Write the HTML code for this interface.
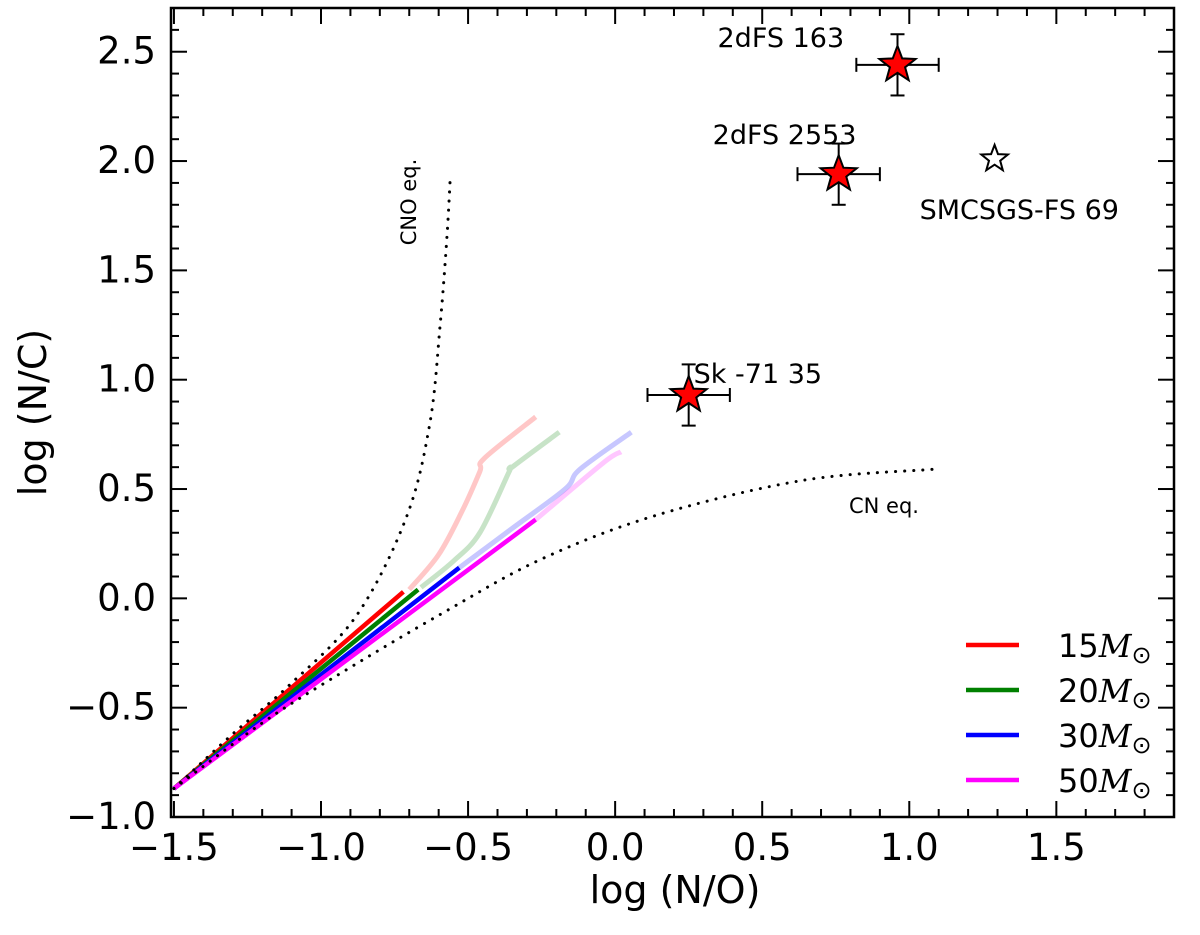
<!DOCTYPE html>
<html><head><meta charset="utf-8"><style>
body{margin:0;background:#fff}
svg text{font-family:"DejaVu Sans","Liberation Sans",sans-serif}
</style></head><body>
<svg id="chart" width="1200" height="930" xmlns="http://www.w3.org/2000/svg">
<g id="marks"></g>
</svg>
<script>
const xTicks=[-1.5,-1.0,-0.5,0.0,0.5,1.0,1.5];
const xTickLabels=["\u22121.5","\u22121.0","\u22120.5","0.0","0.5","1.0","1.5"];
const yTicks=[-1.0,-0.5,0.0,0.5,1.0,1.5,2.0,2.5];
const yTickLabels=["\u22121.0","\u22120.5","0.0","0.5","1.0","1.5","2.0","2.5"];
const cnoX=[-1.5,-1.3,-1.11,-0.88,-0.71,-0.63,-0.595,-0.572,-0.56];
const cnoY=[-0.87,-0.62,-0.40,-0.08,0.37,0.80,1.25,1.65,1.94];
const cnX=[-1.5,-1.2,-0.93,-0.59,-0.25,0.14,0.64,1.08];
const cnY=[-0.87,-0.57,-0.34,-0.07,0.18,0.38,0.54,0.59];
const trackNames=["15","20","30","50"];
const trackColors=["#ff0000","#008000","#0000ff","#ff00ff"];
const darkX=[[-1.5,-0.72],[-1.5,-0.67],[-1.5,-0.53],[-1.5,-0.27]];
const darkY=[[-0.87,0.03],[-0.87,0.04],[-0.87,0.14],[-0.87,0.36]];
const lightX=[[-0.70,-0.60,-0.52,-0.46,-0.445,-0.27],[-0.66,-0.55,-0.46,-0.36,-0.35,-0.19],[-0.53,-0.35,-0.17,-0.12,0.055],[-0.27,-0.04,0.02]];
const lightY=[[0.04,0.20,0.40,0.58,0.64,0.83],[0.05,0.17,0.30,0.58,0.60,0.76],[0.14,0.32,0.50,0.59,0.76],[0.36,0.62,0.67]];
const starNames=["2dFS 163","2dFS 2553","Sk -71 35"];
const starX=[0.96,0.76,0.25];
const starY=[2.44,1.94,0.93];
const starXErr=[0.14,0.14,0.14];
const starYErr=[0.14,0.14,0.14];
const openName="SMCSGS-FS 69";
const openX=[1.29];
const openY=[2.01];

const L=171,R=1174,T=8,B=817,XMIN=-1.51,XMAX=1.9,YMIN=-1.0,YMAX=2.70;
const sx=v=>L+(v-XMIN)/(XMAX-XMIN)*(R-L);
const sy=v=>B-(v-YMIN)/(YMAX-YMIN)*(B-T);
const NS="http://www.w3.org/2000/svg";
const svg=document.getElementById('chart');
function mk(t,a,p){const e=document.createElementNS(NS,t);for(const k in a)e.setAttribute(k,a[k]);(p||svg).appendChild(e);return e;}
function pts(xs,ys){return xs.map((x,i)=>sx(x).toFixed(1)+','+sy(ys[i]).toFixed(1)).join(' ');}
function smooth(xs,ys){let p=xs.map((x,i)=>[sx(x),sy(ys[i])]);let d='M'+p[0][0]+','+p[0][1];for(let i=0;i<p.length-1;i++){const p0=p[i-1]||p[i],p1=p[i],p2=p[i+1],p3=p[i+2]||p2;d+=' C'+(p1[0]+(p2[0]-p0[0])/6)+','+(p1[1]+(p2[1]-p0[1])/6)+' '+(p2[0]-(p3[0]-p1[0])/6)+','+(p2[1]-(p3[1]-p1[1])/6)+' '+p2[0]+','+p2[1];}return d;}
function star(cx,cy,r,fill){let s=[];for(let i=0;i<10;i++){const a=-Math.PI/2+i*Math.PI/5,rr=i%2?r*0.42:r;s.push((cx+rr*Math.cos(a)).toFixed(1)+','+(cy+rr*Math.sin(a)).toFixed(1));}return mk('polygon',{points:s.join(' '),fill:fill,stroke:'#000','stroke-width':2});}

for(let i=0;i<4;i++){
 const e=mk('path',{d:smooth(lightX[i],lightY[i]),fill:'none',stroke:trackColors[i],'stroke-opacity':0.22,'stroke-width':5});
 
 
}
for(let i=0;i<4;i++){
 const e=mk('polyline',{points:pts(darkX[i],darkY[i]),fill:'none',stroke:trackColors[i],'stroke-width':4.5});
 
 
}
let c1=mk('path',{d:smooth(cnoX,cnoY),fill:'none',stroke:'#000','stroke-width':3,'stroke-dasharray':'0.1 9','stroke-linecap':'round'});


let c2=mk('path',{d:smooth(cnX,cnY),fill:'none',stroke:'#000','stroke-width':3,'stroke-dasharray':'0.1 9','stroke-linecap':'round'});


let t1=mk('text',{x:0,y:0,'font-size':21,transform:`translate(416,202) rotate(-90)`,'text-anchor':'middle'});t1.textContent='CNO eq.';

let t2=mk('text',{x:849,y:513,'font-size':21});t2.textContent='CN eq.';


const labOff=[[-180,-18],[-126,-30],[5,-12]];
for(let i=0;i<3;i++){
 const g=mk('g',{});
 
 
 const x=sx(starX[i]),y=sy(starY[i]),x1=sx(starX[i]-starXErr[i]),x2=sx(starX[i]+starXErr[i]),y1=sy(starY[i]+starYErr[i]),y2=sy(starY[i]-starYErr[i]);
 mk('line',{x1:x1,x2:x2,y1:y,y2:y,stroke:'#000','stroke-width':2},g);
 mk('line',{x1:x,x2:x,y1:y1,y2:y2,stroke:'#000','stroke-width':2},g);
 mk('line',{x1:x1,x2:x1,y1:y-7,y2:y+7,stroke:'#000','stroke-width':2},g);
 mk('line',{x1:x2,x2:x2,y1:y-7,y2:y+7,stroke:'#000','stroke-width':2},g);
 mk('line',{x1:x-7,x2:x+7,y1:y1,y2:y1,stroke:'#000','stroke-width':2},g);
 mk('line',{x1:x-7,x2:x+7,y1:y2,y2:y2,stroke:'#000','stroke-width':2},g);
 g.appendChild(star(x,y,19,'#ff0000'));
 const t=mk('text',{x:x+labOff[i][0],y:y+labOff[i][1],'font-size':27},g);t.textContent=starNames[i];
}
{const g=mk('g',{});
 
 
 const x=sx(openX[0]),y=sy(openY[0]);g.appendChild(star(x,y,14,'#fff'));
 const t=mk('text',{x:x-75,y:y+60,'font-size':27},g);t.textContent=openName;}

const ax=mk('g',{});
mk('rect',{x:L,y:T,width:R-L,height:B-T,fill:'none',stroke:'#000','stroke-width':2.5},ax);
for(let v=-1.5;v<=1.91;v+=0.1){const vv=Math.round(v*10)/10;const maj=Math.abs(vv*2-Math.round(vv*2))<1e-6;const len=maj?16:8;const x=sx(vv);
 mk('line',{x1:x,x2:x,y1:B,y2:B-len,stroke:'#000','stroke-width':2},ax);mk('line',{x1:x,x2:x,y1:T,y2:T+len,stroke:'#000','stroke-width':2},ax);}
for(let v=-1.0;v<=2.71;v+=0.1){const vv=Math.round(v*10)/10;const maj=Math.abs(vv*2-Math.round(vv*2))<1e-6;const len=maj?16:8;const y=sy(vv);
 mk('line',{x1:L,x2:L+len,y1:y,y2:y,stroke:'#000','stroke-width':2},ax);mk('line',{x1:R,x2:R-len,y1:y,y2:y,stroke:'#000','stroke-width':2},ax);}
xTicks.forEach((v,i)=>{const t=mk('text',{x:sx(v),y:860,'font-size':37,'text-anchor':'middle'},ax);t.textContent=xTickLabels[i];
 });
yTicks.forEach((v,i)=>{const t=mk('text',{x:L-15,y:sy(v)+12,'font-size':37,'text-anchor':'end'},ax);t.textContent=yTickLabels[i];
 });
let xl=mk('text',{x:675,y:903,'font-size':38,'text-anchor':'middle'});xl.textContent='log (N/O)';

let yl=mk('text',{x:0,y:0,'font-size':38,'text-anchor':'middle',transform:`translate(46,${(T+B)/2}) rotate(-90)`});yl.textContent='log (N/C)';


const lg=mk('g',{});
for(let i=0;i<4;i++){const y=645+45*i;
 const e=mk('g',{},lg);
 
 
 mk('line',{x1:966,x2:1019,y1:y,y2:y,stroke:trackColors[i],'stroke-width':4.5},e);
 const t=mk('text',{x:1058,y:y+12,'font-size':32},e);
 t.innerHTML=trackNames[i]+'<tspan font-family="DejaVu Serif,Liberation Serif,serif" font-style="italic" font-size="32">M</tspan><tspan font-size="24" dy="6">\u2299</tspan>';
}
</script>
</body></html>
